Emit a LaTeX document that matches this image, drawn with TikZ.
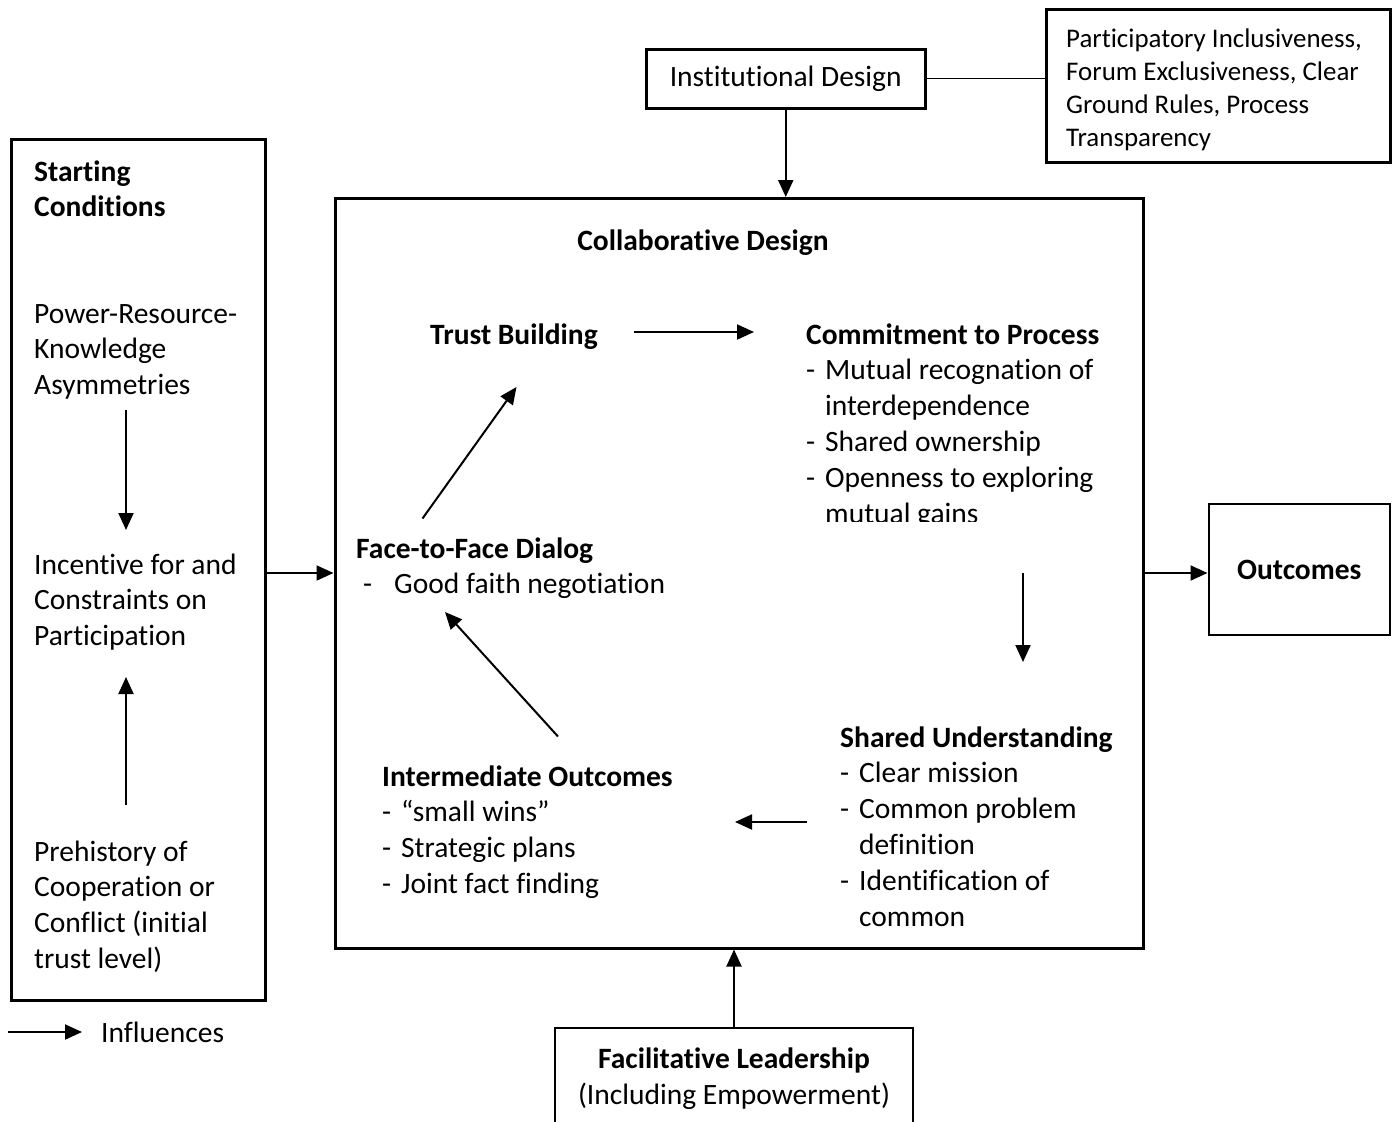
\documentclass[tikz,border=0pt]{standalone}
\usepackage{fontspec}
\setmainfont{Carlito}[Ligatures=NoCommon]
\usetikzlibrary{arrows.meta}
\newcommand\itm[1]{\makebox[19pt][l]{-}#1}
\newcommand\cnt[1]{\hspace*{19pt}#1}
\begin{document}
\begin{tikzpicture}[x=1pt,y=-1pt,
  txt/.style={font=\fontsize{29.5}{35.8}\selectfont, inner sep=0pt, anchor=base west, align=left},
  smalltxt/.style={font=\fontsize{26.9}{32.7}\selectfont, inner sep=0pt, anchor=base west, align=left},
  box/.style={draw, line width=3pt, inner sep=0pt},
  thinbox/.style={draw, line width=2pt, inner sep=0pt},
  arr/.style={-{Triangle[length=17pt,width=15pt]}, line width=2pt}]
\clip (0,0) rectangle (1398,1122);
\fill[white] (0,0) rectangle (1398,1122);

% boxes
\node[box, minimum width=253.5pt, minimum height=861pt] (left) at (138.25,569.5) {};
\node[box, minimum width=808pt, minimum height=749.5pt] (main) at (739,573.25) {};
\node[box, minimum width=278.5pt, minimum height=59pt, font=\fontsize{29.5}{35.8}\selectfont] (id) at (785.75,78.5) {Institutional Design};
\node[box, minimum width=343.5pt, minimum height=153pt] (tr) at (1218.25,85.5) {};
\node[thinbox, minimum width=181.5pt, minimum height=131pt, font=\fontsize{29.5}{35.8}\selectfont] (out) at (1299.25,569.5) {\textbf{Outcomes}};
\node[thinbox, minimum width=358pt, minimum height=172pt] (fac) at (734,1114) {};

% texts outside (anchor = baseline of last line)
\node[smalltxt] (trtxt) at (1066,146) {Participatory Inclusiveness,\\Forum Exclusiveness, Clear\\Ground Rules, Process\\Transparency};
\node[txt, anchor=base, align=center] (factxt) at (734,1104) {\textbf{Facilitative Leadership}\\(Including Empowerment)};
\node[txt] (infl) at (101,1042) {Influences};

% left column
\node[txt] (sc) at (34,216.8) {\textbf{Starting}\\\textbf{Conditions}};
\node[txt] (prk) at (34,394.6) {Power-Resource-\\Knowledge\\Asymmetries};
\node[txt] (inc) at (34,645.6) {Incentive for and\\Constraints on\\Participation};
\node[txt] (pre) at (34,968.4) {Prehistory of\\Cooperation or\\Conflict (initial\\trust level)};

% main texts
\node[txt, anchor=base] (cd) at (703,250) {\textbf{Collaborative Design}};
\node[txt] (trust) at (430,344) {\textbf{Trust Building}};
\begin{scope}
\clip (790,300) rectangle (1130,521.5);
\node[txt] (commit) at (806,523) {\textbf{Commitment to Process}\\\itm{Mutual recognation of}\\\cnt{interdependence}\\\itm{Shared ownership}\\\itm{Openness to exploring}\\\cnt{mutual gains}};
\end{scope}
\node[txt] (face) at (356,593.8) {\textbf{Face-to-Face Dialog}\\\hspace*{7pt}\makebox[31pt][l]{-}Good faith negotiation};
\node[txt] (inter) at (382,893.4) {\textbf{Intermediate Outcomes}\\\itm{“small wins”}\\\itm{Strategic plans}\\\itm{Joint fact finding}};
\node[txt] (shared) at (840,926) {\textbf{Shared Understanding}\\\itm{Clear mission}\\\itm{Common problem}\\\cnt{definition}\\\itm{Identification of}\\\cnt{common}};

% coordinates for free connector ends
\coordinate (ly) at (0,573);
\coordinate (a1) at (126,410); \coordinate (a2) at (126,530);
\coordinate (b1) at (126,805); \coordinate (b2) at (126,677);
\coordinate (t1) at (634,332); \coordinate (t2) at (754,332);
\coordinate (c1) at (1023,573); \coordinate (c2) at (1023,662);
\coordinate (s1) at (806.5,822); \coordinate (s2) at (735,822);
\coordinate (i1) at (558,736.5); \coordinate (i2) at (445,612);
\coordinate (f1) at (422.5,518.5); \coordinate (f2) at (516.5,387);
\coordinate (l1) at (8,1032); \coordinate (l2) at (82,1032);

% connectors
\draw[line width=1.3pt] (id.east) -- (tr.west |- id.east);
\draw[arr] (id.south) -- (id.south |- main.north);
\draw[arr] (fac.north) -- (fac.north |- main.south);
\draw[arr] (left.east |- ly) -- (main.west |- ly);
\draw[arr] (main.east |- ly) -- (out.west |- ly);
\draw[arr] (a1) -- (a2);
\draw[arr] (b1) -- (b2);
\draw[arr] (t1) -- (t2);
\draw[arr] (c1) -- (c2);
\draw[arr] (s1) -- (s2);
\draw[arr] (i1) -- (i2);
\draw[arr] (f1) -- (f2);
\draw[arr] (l1) -- (l2);
\end{tikzpicture}
\end{document}
